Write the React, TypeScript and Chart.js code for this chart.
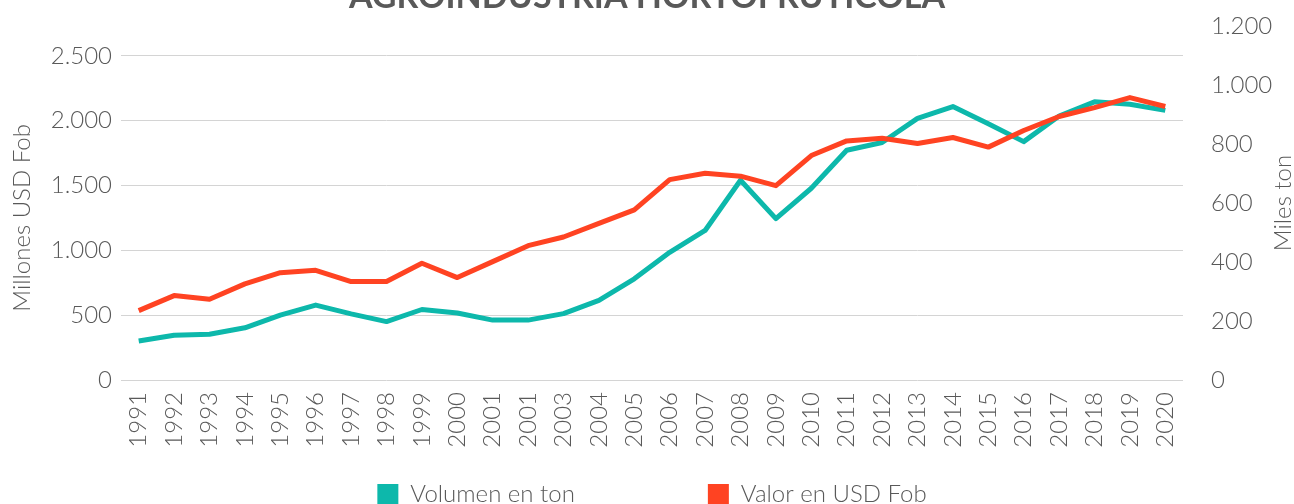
import React, { useEffect, useRef } from 'react';
import { Chart, registerables } from 'chart.js';

Chart.register(...registerables);

const TITLE = 'AGROINDUSTRIA HORTOFRUTÍCOLA';
const Y_LEFT_TITLE = 'Millones USD Fob';
const Y_RIGHT_TITLE = 'Miles ton';

const categories = [
  '1991', '1992', '1993', '1994', '1995', '1996', '1997', '1998', '1999', '2000',
  '2001', '2001', '2003', '2004', '2005', '2006', '2007', '2008', '2009', '2010',
  '2011', '2012', '2013', '2014', '2015', '2016', '2017', '2018', '2019', '2020',
];

const volumenLabel = 'Volumen en ton';
const volumenMilesTon = [
  132, 152, 155, 177, 220, 254, 224, 198, 239, 227,
  203, 203, 225, 270, 343, 433, 507, 677, 547, 650,
  779, 805, 887, 927, 869, 808, 895, 943, 935, 914,
];

const valorLabel = 'Valor en USD Fob';
const valorMillonesUsd = [
  535, 651, 623, 741, 828, 846, 759, 759, 900, 790,
  913, 1036, 1103, 1208, 1312, 1545, 1595, 1572, 1499, 1731,
  1844, 1865, 1824, 1870, 1796, 1924, 2032, 2101, 2178, 2109,
];

const leftTicks = [0, 500, 1000, 1500, 2000, 2500];
const rightTicks = [0, 200, 400, 600, 800, 1000, 1200];

const TEAL = '#0db8ab';
const RED = '#ff4322';
const TEXT = '#595959';
const FONT = 'Lato';
const FS = 24;
const FW = '300';

const fmt = (v: number) => String(v).replace(/\B(?=(\d{3})+(?!\d))/g, '.');

const extraText = {
  id: 'extraText',
  afterDraw(chart: any) {
    const { ctx, chartArea, scales } = chart;
    ctx.save();
    ctx.fillStyle = TEXT;
    // title
    ctx.font = `bold 34px ${FONT}`;
    ctx.textAlign = 'center';
    ctx.textBaseline = 'alphabetic';
    ctx.fillText(TITLE, chart.width / 2, 38);

    // axis titles
    ctx.font = `${FW} ${FS}px ${FONT}`;
    ctx.textBaseline = 'middle';
    const yMidLeft = scales.yL.getPixelForValue((leftTicks[0] + leftTicks[leftTicks.length - 1]) / 2);
    ctx.save();
    ctx.translate(22, yMidLeft);
    ctx.rotate(-Math.PI / 2);
    ctx.fillText(Y_LEFT_TITLE, 0, 0);
    ctx.restore();

    const yMidRight = (chartArea.top + chartArea.bottom) / 2;
    ctx.save();
    ctx.translate(1283, yMidRight);
    ctx.rotate(-Math.PI / 2);
    ctx.fillText(Y_RIGHT_TITLE, 0, 0);
    ctx.restore();

    // legend
    const items = [
      { label: chart.data.datasets[0].label, color: chart.data.datasets[0].borderColor },
      { label: chart.data.datasets[1].label, color: chart.data.datasets[1].borderColor },
    ];
    const box = 21;
    const gap = 12;
    const between = 133;
    const widths = items.map((it) => box + gap + ctx.measureText(it.label).width);
    const total = widths.reduce((a, b) => a + b, 0) + between * (items.length - 1);
    let x = (chartArea.left + chartArea.right) / 2 - total / 2;
    const boxTop = 514;
    ctx.textAlign = 'left';
    items.forEach((it, i) => {
      ctx.fillStyle = it.color;
      ctx.fillRect(x, boxTop, box, box);
      ctx.fillStyle = TEXT;
      ctx.fillText(it.label, x + box + gap, boxTop + box / 2);
      x += widths[i] + between;
    });
    ctx.restore();
  },
};

export default function App() {
  const ref = useRef<HTMLCanvasElement | null>(null);

  useEffect(() => {
    if (!ref.current) return;
    const tickFont = { family: FONT, size: FS, weight: FW };
    const chart = new Chart(ref.current, {
      type: 'line',
      data: {
        labels: categories,
        datasets: [
          {
            label: volumenLabel,
            data: volumenMilesTon,
            yAxisID: 'yR',
            borderColor: TEAL,
            backgroundColor: TEAL,
            borderWidth: 5,
            pointRadius: 0,
            pointHoverRadius: 0,
            borderJoinStyle: 'round',
            tension: 0,
            order: 1,
          },
          {
            label: valorLabel,
            data: valorMillonesUsd,
            yAxisID: 'yL',
            borderColor: RED,
            backgroundColor: RED,
            borderWidth: 5,
            pointRadius: 0,
            pointHoverRadius: 0,
            borderJoinStyle: 'round',
            tension: 0,
            order: 0,
          },
        ],
      },
      options: {
        responsive: false,
        animation: false,
        events: [],
        layout: { padding: { top: 56, bottom: 0, left: 0, right: 0 } },
        plugins: {
          legend: { display: false },
          title: { display: false },
          tooltip: { enabled: false },
        },
        scales: {
          x: {
            type: 'category',
            offset: true,
            grid: { display: false, drawTicks: false },
            border: { display: false },
            afterFit: (s: any) => {
              s.height = 150;
            },
            ticks: {
              font: tickFont,
              color: TEXT,
              maxRotation: 90,
              minRotation: 90,
              autoSkip: false,
              padding: 12,
            },
          },
          yL: {
            type: 'linear',
            position: 'left',
            min: 0,
            max: 2730,
            afterBuildTicks: (s: any) => {
              s.ticks = leftTicks.map((v) => ({ value: v }));
            },
            afterFit: (s: any) => {
              s.width = 121;
            },
            grid: { color: '#d4d4d4', lineWidth: 1, drawTicks: false },
            border: { display: false },
            ticks: { font: tickFont, color: TEXT, padding: 9, callback: (v: any) => fmt(Number(v)) },
          },
          yR: {
            type: 'linear',
            position: 'right',
            min: 0,
            max: 1200,
            afterBuildTicks: (s: any) => {
              s.ticks = rightTicks.map((v) => ({ value: v }));
            },
            afterFit: (s: any) => {
              s.width = 111;
            },
            grid: { display: false, drawTicks: false },
            border: { display: false },
            ticks: { font: tickFont, color: TEXT, padding: 28, callback: (v: any) => fmt(Number(v)) },
          },
        },
      },
      plugins: [extraText],
    });
    return () => chart.destroy();
  }, []);

  return (
    <div style={{ position: 'fixed', left: 0, top: 0, width: 1294, height: 504, overflow: 'hidden', background: '#fff' }}>
      <canvas ref={ref} width={1294} height={560} style={{ position: 'absolute', left: 0, top: -30, width: 1294, height: 560 }} />
    </div>
  );
}
